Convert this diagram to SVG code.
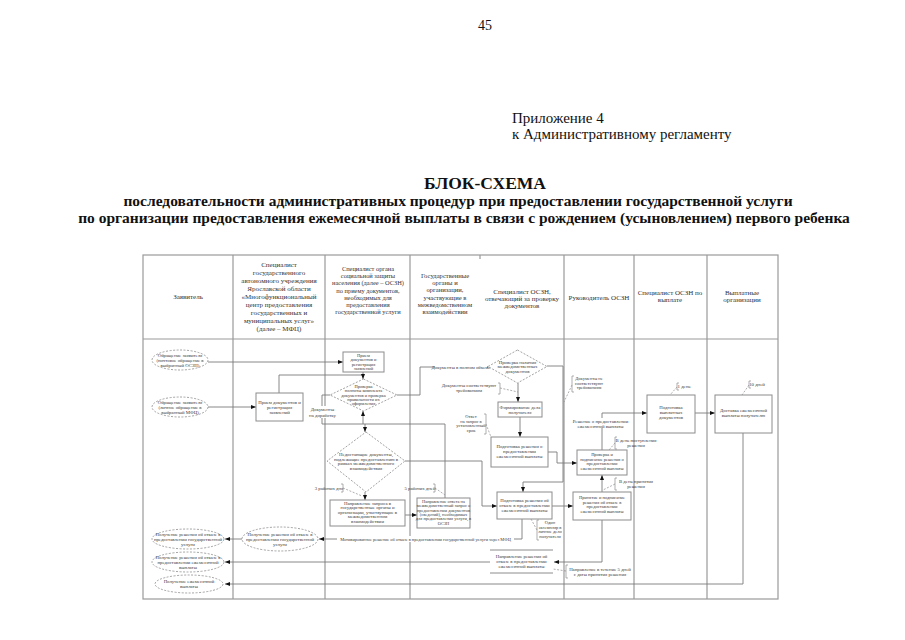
<svg xmlns="http://www.w3.org/2000/svg" width="905" height="640" viewBox="0 0 905 640">
<defs>
<marker id="ah" markerWidth="5" markerHeight="4" refX="5" refY="2" orient="auto" markerUnits="userSpaceOnUse"><path d="M0,0 L5,2 L0,4 z" fill="#111"/></marker>
<style>
.tt{font-family:"Liberation Serif","Times New Roman",serif;fill:#111}
.tb{font-family:"Liberation Serif","Times New Roman",serif;fill:#111;font-weight:bold;text-anchor:middle}
.tbl{stroke:#9a9a9a;stroke-width:1.2;fill:none}
.h{font-family:"Liberation Serif","Times New Roman",serif;font-size:7px;fill:#333;text-anchor:middle}
.t{font-family:"Liberation Serif","Times New Roman",serif;font-size:4.8px;fill:#3a3a3a;text-anchor:middle}
.box{fill:#fff;stroke:#8c8c8c;stroke-width:1}
.dsh{fill:#fff;stroke:#8c8c8c;stroke-width:0.8;stroke-dasharray:2 1.5}
.ln{stroke:#7a7a7a;stroke-width:0.9;fill:none}
.arr{marker-end:url(#ah)}
.an{stroke:#8c8c8c;stroke-width:0.7;fill:none;stroke-dasharray:2 1.5}
.br{stroke:#8c8c8c;stroke-width:0.7;fill:none}
.wb{fill:#fff;stroke:none}
</style>
</defs>
<rect width="905" height="640" fill="#fff"/>
<g id="page-text">
<text class="tt" x="485" y="30" font-size="14" text-anchor="middle">45</text>
<text class="tt" x="512" y="123" font-size="15">Приложение 4</text>
<text class="tt" x="512" y="139" font-size="15">к Административному регламенту</text>
<text class="tb" x="485" y="189" font-size="17.5">БЛОК-СХЕМА</text>
<text class="tb" x="458" y="206" font-size="15.5">последовательности административных процедур при предоставлении государственной услуги</text>
<text class="tb" x="464" y="223" font-size="15.5">по организации предоставления ежемесячной выплаты в связи с рождением (усыновлением) первого ребенка</text>
</g>
<g id="table">
<rect class="tbl" x="143" y="255" width="635" height="344"/>
<path class="tbl" d="M143,339 H778 M233,255 V599 M325,255 V599 M410,255 V599 M564,255 V599 M634,255 V599 M707,255 V599 M480,255 V259"/>
<text class="h" x="188" y="299">Заявитель</text>
<text class="h" x="279"><tspan x="279" y="267">Специалист</tspan><tspan x="279" y="275">государственного</tspan><tspan x="279" y="283">автономного учреждения</tspan><tspan x="279" y="291">Ярославской области</tspan><tspan x="279" y="299">«Многофункциональный</tspan><tspan x="279" y="307">центр предоставления</tspan><tspan x="279" y="315">государственных и</tspan><tspan x="279" y="323">муниципальных услуг»</tspan><tspan x="279" y="331">(далее – МФЦ)</tspan></text>
<text class="h" style="font-size:6.4px"><tspan x="368" y="271">Специалист органа</tspan><tspan x="368" y="278.2">социальной защиты</tspan><tspan x="368" y="285.4">населения (далее – ОСЗН)</tspan><tspan x="368" y="292.6">по приему документов,</tspan><tspan x="368" y="299.8">необходимых для</tspan><tspan x="368" y="307">предоставления</tspan><tspan x="368" y="314.2">государственной услуги</tspan></text>
<text class="h" style="font-size:6.6px"><tspan x="445" y="278">Государственные</tspan><tspan x="445" y="285.2">органы и</tspan><tspan x="445" y="292.4">организации,</tspan><tspan x="445" y="299.6">участвующие в</tspan><tspan x="445" y="306.8">межведомственном</tspan><tspan x="445" y="314">взаимодействии</tspan></text>
<text class="h"><tspan x="522" y="294">Специалист ОСЗН,</tspan><tspan x="522" y="301">отвечающий за проверку</tspan><tspan x="522" y="308">документов</tspan></text>
<text class="h" x="599" y="300">Руководитель ОСЗН</text>
<text class="h"><tspan x="670" y="295">Специалист ОСЗН по</tspan><tspan x="670" y="302">выплате</tspan></text>
<text class="h"><tspan x="742" y="295">Выплатные</tspan><tspan x="742" y="302">организации</tspan></text>
</g>
<g id="connectors">
<path class="ln arr" d="M208,362 H343"/>
<path class="ln arr" d="M208,407 H256"/>
<path class="ln" d="M279,393 V375 H363"/>
<path class="ln arr" d="M363,372 V379"/>
<path class="ln arr" d="M397,395 H420 V367 H488"/>
<path class="ln" d="M330,395 H322 V424 H445 V498"/>
<path class="ln arr" d="M363,424 V411"/>
<path class="ln arr" d="M365,424 V432"/>
<path class="ln arr" d="M365,492 V500"/>
<path class="ln arr" d="M405,461 H482 V506 H497"/>
<path class="ln arr" d="M405,515 H417"/>
<path class="ln arr" d="M518,383 V402"/>
<path class="ln arr" d="M520,417 V437"/>
<path class="ln arr" d="M548,452 H557 V463 H577"/>
<path class="ln arr" d="M602,450 V413 H647"/>
<path class="ln arr" d="M695,413 H715"/>
<path class="ln arr" d="M743,433 V584 H225"/>
<path class="ln arr" d="M552,506 H573"/>
<path class="ln arr" d="M602,492 V475"/>
<path class="ln arr" d="M602,520 V562 H554"/>
<path class="ln arr" d="M490,562 H225"/>
<path class="ln arr" d="M242,539 H225"/>
<path class="ln arr" d="M522,519 V539 H319"/>
<path class="ln arr" d="M547,366 H563 V482 H523 V492"/>
</g>
<g id="e-post">
<ellipse class="dsh" cx="180" cy="360" rx="28" ry="10"/>
<text class="t"><tspan x="180" y="356.5">Обращение заявителя</tspan><tspan x="180" y="361.5">(почтовое обращение в</tspan><tspan x="180" y="366.5">выбранный ОСЗН)</tspan></text>
</g>
<g id="e-mfc">
<ellipse class="dsh" cx="180" cy="407" rx="28" ry="10"/>
<text class="t"><tspan x="180" y="403.5">Обращение заявителя</tspan><tspan x="180" y="408.5">(личное обращение в</tspan><tspan x="180" y="413.5">выбранный МФЦ)</tspan></text>
</g>
<g id="e-refuse-service">
<ellipse class="dsh" cx="188" cy="539" rx="36" ry="10"/>
<text class="t"><tspan x="188" y="535.5">Получение решения об отказе в</tspan><tspan x="188" y="540.5">предоставлении государственной</tspan><tspan x="188" y="545.5">услуги</tspan></text>
</g>
<g id="e-refuse-pay">
<ellipse class="dsh" cx="188" cy="562" rx="36" ry="10"/>
<text class="t"><tspan x="188" y="558.5">Получение решения об отказе в</tspan><tspan x="188" y="563.5">предоставлении ежемесячной</tspan><tspan x="188" y="568.5">выплаты</tspan></text>
</g>
<g id="e-pay">
<ellipse class="dsh" cx="189" cy="584" rx="34" ry="9"/>
<text class="t"><tspan x="189" y="583">Получение ежемесячной</tspan><tspan x="189" y="588">выплаты</tspan></text>
</g>
<g id="e-mfc-refuse">
<ellipse class="dsh" cx="280" cy="539" rx="38" ry="12"/>
<text class="t"><tspan x="280" y="535.5">Получение решения об отказе в</tspan><tspan x="280" y="540.5">предоставлении государственной</tspan><tspan x="280" y="545.5">услуги</tspan></text>
</g>
<g id="r-mfc-reception">
<rect class="box" x="256" y="393" width="47" height="28"/>
<text class="t"><tspan x="279.5" y="403.5">Прием документов и</tspan><tspan x="279.5" y="408.5">регистрация</tspan><tspan x="279.5" y="413.5">заявлений</tspan></text>
</g>
<g id="r-oszn-reception">
<rect class="box" x="343" y="352" width="41" height="20"/>
<text class="t" style="font-size:4.5px"><tspan x="363.5" y="357">Прием</tspan><tspan x="363.5" y="361.3">документов и</tspan><tspan x="363.5" y="365.6">регистрация</tspan><tspan x="363.5" y="369.9">заявлений</tspan></text>
</g>
<g id="d-check-complete">
<polygon class="dsh" points="363.5,379 397,395 363.5,411 330,395"/>
<text class="t" style="font-size:4.5px"><tspan x="363.5" y="388">Проверка</tspan><tspan x="363.5" y="392.3">полноты комплекта</tspan><tspan x="363.5" y="396.6">документов и проверка</tspan><tspan x="363.5" y="400.9">правильности их</tspan><tspan x="363.5" y="405.2">оформления</tspan></text>
</g>
<g id="d-check-interagency">
<polygon class="dsh" points="517.5,350 547,366.5 517.5,383 488,366.5"/>
<text class="t"><tspan x="517.5" y="363.5">Проверка наличия</tspan><tspan x="517.5" y="368">межведомственных</tspan><tspan x="517.5" y="372.5">документов</tspan></text>
</g>
<g id="d-missing-docs">
<polygon class="dsh" points="366,432 405,461 366,492 327,461"/>
<text class="t"><tspan x="366" y="456">Недостающие документы,</tspan><tspan x="366" y="460.5">подлежащие предоставлению в</tspan><tspan x="366" y="465">рамках межведомственного</tspan><tspan x="366" y="469.5">взаимодействия</tspan></text>
</g>
<g id="r-request">
<rect class="box" x="330" y="500" width="75" height="26"/>
<text class="t"><tspan x="367.5" y="504.5">Направление запроса в</tspan><tspan x="367.5" y="509">государственные органы и</tspan><tspan x="367.5" y="513.5">организации, участвующие в</tspan><tspan x="367.5" y="518">межведомственном</tspan><tspan x="367.5" y="522.5">взаимодействии</tspan></text>
</g>
<g id="r-answer">
<rect class="box" x="417" y="498" width="53" height="30"/>
<text class="t" style="font-size:4.4px"><tspan x="443.5" y="503">Направление ответа на</tspan><tspan x="443.5" y="507.3">межведомственный запрос о</tspan><tspan x="443.5" y="511.6">предоставлении документов</tspan><tspan x="443.5" y="515.9">(сведений), необходимых</tspan><tspan x="443.5" y="520.2">для предоставления услуги, в</tspan><tspan x="443.5" y="524.5">ОСЗН</tspan></text>
</g>
<g id="r-case">
<rect class="box" x="498" y="402" width="44" height="15"/>
<text class="t"><tspan x="520" y="408.5">Формирование дела</tspan><tspan x="520" y="413.5">получателя</tspan></text>
</g>
<g id="r-prepare-grant">
<rect class="box" x="491" y="437" width="57" height="30"/>
<text class="t"><tspan x="519.5" y="448">Подготовка решения о</tspan><tspan x="519.5" y="453">предоставлении</tspan><tspan x="519.5" y="458">ежемесячной выплаты</tspan></text>
</g>
<g id="r-prepare-refuse">
<rect class="box" x="497" y="492" width="55" height="27"/>
<text class="t"><tspan x="524.5" y="501.5">Подготовка решения об</tspan><tspan x="524.5" y="506.5">отказе в предоставлении</tspan><tspan x="524.5" y="511.5">ежемесячной выплаты</tspan></text>
</g>
<g id="r-sign-grant">
<rect class="box" x="577" y="450" width="50" height="25"/>
<text class="t" style="font-size:4.5px"><tspan x="602" y="456">Проверка и</tspan><tspan x="602" y="460.5">подписание решения о</tspan><tspan x="602" y="465">предоставлении</tspan><tspan x="602" y="469.5">ежемесячной выплаты</tspan></text>
</g>
<g id="r-sign-refuse">
<rect class="box" x="573" y="492" width="58" height="28"/>
<text class="t" style="font-size:4.5px"><tspan x="602" y="499">Принятие и подписание</tspan><tspan x="602" y="503.5">решения об отказе в</tspan><tspan x="602" y="508">предоставлении</tspan><tspan x="602" y="512.5">ежемесячной выплаты</tspan></text>
</g>
<g id="r-pay-docs">
<rect class="box" x="647" y="395" width="48" height="38"/>
<text class="t"><tspan x="671" y="409">Подготовка</tspan><tspan x="671" y="414">выплатных</tspan><tspan x="671" y="419">документов</tspan></text>
</g>
<g id="r-delivery">
<rect class="box" x="715" y="395" width="57" height="38"/>
<text class="t"><tspan x="743.5" y="412">Доставка ежемесячной</tspan><tspan x="743.5" y="417">выплаты получателю</tspan></text>
</g>
<g id="s-send-refuse">
<rect class="wb" x="490" y="550" width="63" height="23"/>
<path class="br" style="stroke-width:1" d="M490,550 H553 M490,573 H553"/>
<text class="t"><tspan x="521.5" y="558">Направление решения об</tspan><tspan x="521.5" y="563">отказе в предоставлении</tspan><tspan x="521.5" y="568">ежемесячной выплаты</tspan></text>
</g>
<g id="annotations">
<rect class="wb" x="309" y="406" width="27" height="12"/>
<text class="t"><tspan x="322.5" y="411">Документы</tspan><tspan x="322.5" y="416.5">на доработку</tspan></text>
<rect class="wb" x="435" y="364" width="52" height="6"/>
<text class="t" x="461" y="368.7">Документы в полном объеме</text>
<text class="t"><tspan x="469" y="386.5">Документы соответствуют</tspan><tspan x="469" y="391.5">требованиям</tspan></text>
<path class="br" d="M498,383 H500 V394 H498"/>
<path class="an" d="M500,388 L518,392"/>
<text class="t" style="font-size:4.5px"><tspan x="471" y="418">Ответ</tspan><tspan x="471" y="422.5">на запрос в</tspan><tspan x="471" y="427">установленный</tspan><tspan x="471" y="431.5">срок</tspan></text>
<path class="br" d="M484,414 H486 V434 H484"/>
<path class="an" d="M486,424 L491,437"/>
<text class="t" x="329" y="489.5">3 рабочих дня</text>
<path class="br" d="M341,484 H343 V492 H341"/>
<path class="an" d="M343,488 L362,496"/>
<text class="t" x="420" y="489.5">5 рабочих дней</text>
<path class="br" d="M433,484 H435 V492 H433"/>
<path class="an" d="M435,488 L445,495"/>
<text class="t" style="font-size:4.5px"><tspan x="589" y="380">Документы не</tspan><tspan x="589" y="384.5">соответствуют</tspan><tspan x="589" y="389">требованиям</tspan></text>
<path class="br" d="M574,376 H572 V392 H574"/>
<path class="an" d="M572,385 L564,402"/>
<rect class="wb" x="573" y="418" width="56" height="10"/>
<text class="t"><tspan x="600.5" y="422.5">Решение о предоставлении</tspan><tspan x="600.5" y="427.5">ежемесячной выплаты</tspan></text>
<text class="t"><tspan x="636" y="441.5">В день поступления</tspan><tspan x="636" y="446.5">решения</tspan></text>
<path class="br" d="M617,437 H615 V449 H617"/>
<path class="an" d="M615,443 L609,450"/>
<text class="t"><tspan x="636" y="482.5">В день принятия</tspan><tspan x="636" y="487.5">решения</tspan></text>
<path class="br" d="M617,478 H615 V490 H617"/>
<path class="an" d="M615,484 L603,490"/>
<text class="t" x="684" y="387.5">1 день</text>
<path class="br" d="M679,383 H677 V390 H679"/>
<path class="an" d="M677,387 L670,395"/>
<text class="t" x="757" y="386">10 дней</text>
<path class="br" d="M751,381 H749 V388 H751"/>
<path class="an" d="M749,385 L742,395"/>
<text class="t" style="font-size:4.5px"><tspan x="550" y="524">Один</tspan><tspan x="550" y="528.5">экземпляр в</tspan><tspan x="550" y="533">личное дело</tspan><tspan x="550" y="537.5">получателя</tspan></text>
<path class="br" d="M539,520 H537 V540 H539"/>
<path class="an" d="M537,530 L531,519"/>
<text class="t"><tspan x="600" y="570.5">Направление в течение 5 дней</tspan><tspan x="600" y="575.5">с даты принятия решения</tspan></text>
<path class="br" d="M568,565 H566 V578 H568"/>
<path class="an" d="M566,571 L553,569"/>
<rect class="wb" x="337" y="536" width="177" height="6"/>
<text class="t" x="425.5" y="540.5" style="font-size:4.4px">Мотивированное решение об отказе в предоставлении государственной услуги через МФЦ</text>
</g>
</svg>
